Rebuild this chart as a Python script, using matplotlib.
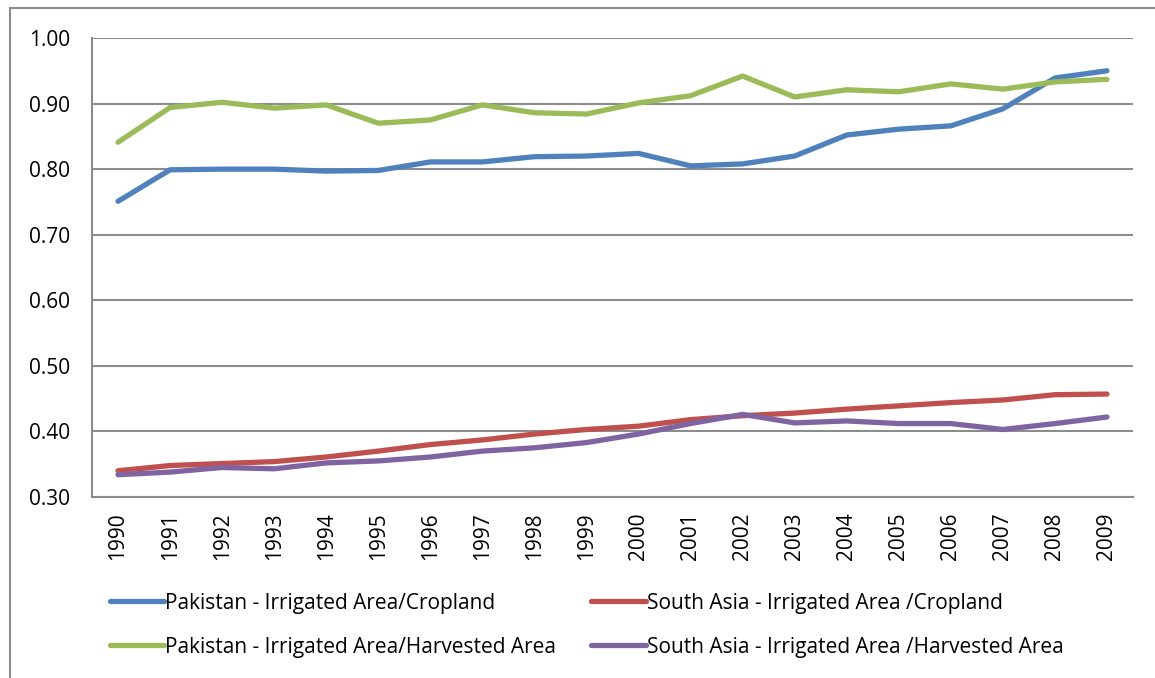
import matplotlib
matplotlib.use("Agg")
import matplotlib.pyplot as plt
from matplotlib.patches import Rectangle

# data
years = [str(y) for y in range(1990, 2010)]
pak_cropland = [0.751, 0.799, 0.800, 0.800, 0.797, 0.798, 0.811, 0.811, 0.819, 0.820,
                0.824, 0.805, 0.808, 0.820, 0.852, 0.861, 0.866, 0.892, 0.939, 0.950]
sa_cropland = [0.340, 0.348, 0.351, 0.354, 0.361, 0.370, 0.380, 0.387, 0.396, 0.403,
               0.408, 0.418, 0.424, 0.428, 0.434, 0.439, 0.444, 0.448, 0.456, 0.457]
pak_harvested = [0.841, 0.894, 0.902, 0.893, 0.898, 0.870, 0.875, 0.898, 0.886, 0.884,
                 0.901, 0.912, 0.942, 0.910, 0.921, 0.918, 0.930, 0.922, 0.933, 0.937]
sa_harvested = [0.334, 0.338, 0.345, 0.343, 0.352, 0.355, 0.361, 0.370, 0.375, 0.383,
                0.396, 0.412, 0.426, 0.413, 0.416, 0.412, 0.412, 0.403, 0.412, 0.422]

yticks = [0.30, 0.40, 0.50, 0.60, 0.70, 0.80, 0.90, 1.00]

plt.rcParams['font.family'] = ['Open Sans', 'DejaVu Sans']
fs = 15

fig = plt.figure(figsize=(11.55, 6.78), dpi=100)
ax = fig.add_axes([92 / 1155, 1 - 497 / 678, (1133 - 92) / 1155, (497 - 38) / 678])

# outer chart frame (right and bottom edges fall outside the picture)
fig.patches.append(Rectangle((10 / 1155, -0.2), 1.5, 1.2 - 8 / 678, transform=fig.transFigure,
                             fill=False, edgecolor='#8c8c8c', linewidth=1.5))

x = range(len(years))
lw = 3.8
l1, = ax.plot(x, pak_cropland, color='#4F81BD', lw=lw, solid_capstyle='round',
              label='Pakistan - Irrigated Area/Cropland')
l2, = ax.plot(x, sa_cropland, color='#C0504D', lw=lw, solid_capstyle='round',
              label='South Asia - Irrigated Area /Cropland')
l3, = ax.plot(x, pak_harvested, color='#9BBB59', lw=lw, solid_capstyle='round',
              label='Pakistan - Irrigated Area/Harvested Area')
l4, = ax.plot(x, sa_harvested, color='#8064A2', lw=lw, solid_capstyle='round',
              label='South Asia - Irrigated Area /Harvested Area')

ax.set_xlim(-0.5, len(years) - 0.5)
ax.set_ylim(0.30, 1.00)
ax.set_yticks(yticks)
ax.set_yticklabels([f"{v:.2f}" for v in yticks], fontsize=fs)
ax.set_xticks(list(x))
ax.set_xticklabels(years, rotation=90, fontsize=fs)
ax.tick_params(length=0)
ax.tick_params(axis='y', pad=16)
ax.tick_params(axis='x', pad=11)
ax.yaxis.grid(True, color='#8c8c8c', linewidth=1.5)
ax.set_axisbelow(True)
for s in ['top', 'right']:
    ax.spines[s].set_visible(False)
ax.spines['left'].set_color('#8c8c8c')
ax.spines['bottom'].set_color('#8c8c8c')
ax.spines['left'].set_linewidth(1.5)
ax.spines['bottom'].set_linewidth(1.5)

fig.legend(handles=[l1, l3, l2, l4], ncol=2, frameon=False, fontsize=fs,
           loc='upper left', bbox_to_anchor=(91 / 1155, 1 - 574 / 678),
           handlelength=2.6, handletextpad=0.05, columnspacing=1.7, labelspacing=1.1)

fig.savefig('out.png', dpi=100)
